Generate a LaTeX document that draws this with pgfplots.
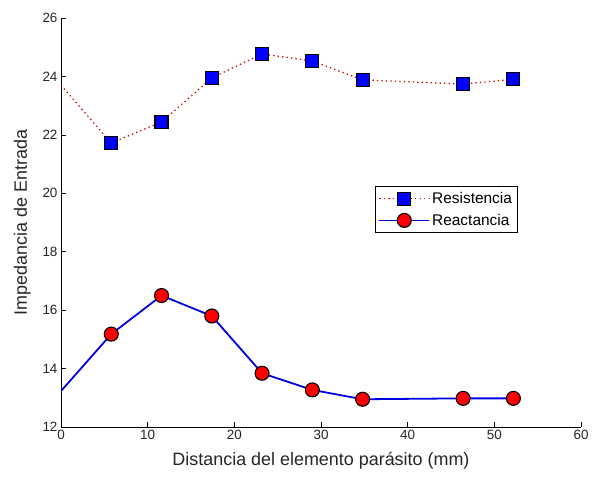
\documentclass[border=0pt]{standalone}
\usepackage{pgfplots}
\pgfplotsset{compat=1.18}
\usepackage{fontspec}
\setmainfont{Liberation Sans}
\usetikzlibrary{calc}

\begin{document}
\begin{tikzpicture}
\begin{axis}[
  name=ax,
  scale only axis,
  width=520bp, height=409bp,
  xmin=0, xmax=60, ymin=12, ymax=26,
  xtick={0,10,...,60}, ytick={12,14,...,26},
  axis x line=bottom, axis y line=left,
  axis line style={-, black, line width=0.6pt},
  tick align=inside,
  major tick length=5bp,
  tick style={black, line width=0.6pt},
  /pgf/number format/assume math mode=true,
  tick label style={font=\fontsize{13.5}{15}\selectfont, color=black!85},
  xlabel={Distancia del elemento parásito (mm)},
  ylabel={Impedancia de Entrada},
  label style={font=\fontsize{18}{20}\selectfont, color=black!85},
  xlabel style={yshift=-5bp},
  ylabel style={yshift=5bp},
  legend style={
    at={(0.604,0.589)}, anchor=north west,
    draw=black, line width=0.6pt,
    font=\fontsize{15.5}{17}\selectfont,
    inner xsep=3bp, inner ysep=4bp, row sep=5bp,
    legend cell align=left,
  },
  legend image code/.code={%
    \draw[mark repeat=2, mark phase=2, #1]
      plot coordinates {(-4bp,0bp) (21bp,0bp) (46bp,0bp)};},
]
% first segment of each curve (point at x=0 has no marker)
\addplot[red!85!black, dash pattern=on 1.3pt off 3.2pt, line width=1.3pt, forget plot]
  coordinates {(0,23.7) (5.8,21.72)};
\addplot[blue!90!black, solid, line width=1.8pt, forget plot]
  coordinates {(0,13.23) (5.8,15.18)};

\addplot[red!85!black, dash pattern=on 1.3pt off 3.2pt, line width=1.3pt,
  mark=square*, mark size=6.5bp,
  mark options={solid, fill=blue, draw=black, line width=1.1pt}]
  coordinates {
  (5.8,21.72) (11.6,22.44) (17.4,23.95) (23.2,24.77)
  (29,24.53) (34.8,23.88) (46.4,23.74) (52.2,23.9)
  };
\addlegendentry{Resistencia}
\addplot[blue!90!black, solid, line width=1.8pt,
  mark=*, mark size=7bp,
  mark options={solid, fill=red, draw=black, line width=1.1pt}]
  coordinates {
  (5.8,15.18) (11.6,16.5) (17.4,15.8) (23.2,13.84)
  (29,13.27) (34.8,12.95) (46.4,12.98) (52.2,12.98)
  };
\addlegendentry{Reactancia}
\end{axis}
\pgfresetboundingbox
\path[use as bounding box] ($(ax.south west)+(-61bp,-49bp)$) rectangle ($(ax.north east)+(14bp,18bp)$);
\end{tikzpicture}
\end{document}
